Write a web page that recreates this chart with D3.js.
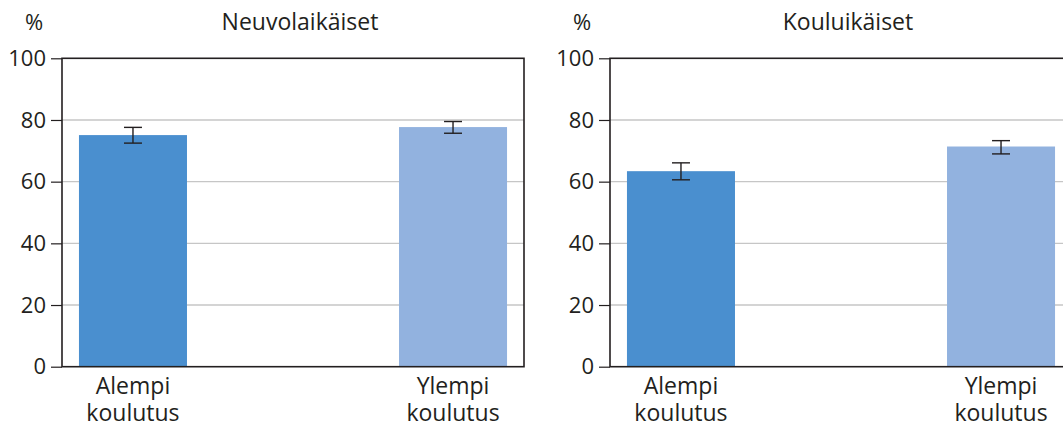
<!DOCTYPE html>
<html>
<head>
<meta charset="utf-8">
<script src="https://cdn.jsdelivr.net/npm/d3@7"></script>
<style>
  body { margin: 0; background: #fff; }
  text { font-family: "Open Sans", sans-serif; fill: #231f20; }
</style>
</head>
<body>
<div id="chart"></div>
<script>
// data
const panelTitles = ["Neuvolaikäiset", "Kouluikäiset"];
const groups = ["Alempi koulutus", "Ylempi koulutus"];
const neuvolaValues = [75.1, 77.7];
const neuvolaLow = [72.5, 75.7];
const neuvolaHigh = [77.6, 79.5];
const kouluValues = [63.4, 71.4];
const kouluLow = [60.6, 69.0];
const kouluHigh = [66.1, 73.3];
const yTicks = [0, 20, 40, 60, 80, 100];
const colors = ["#4a8fcf", "#92b2df"];

const width = 1063, height = 427;
const svg = d3.select("#chart").append("svg")
    .attr("width", width)
    .attr("height", height);

const panels = [
    {title: panelTitles[0], values: neuvolaValues, low: neuvolaLow, high: neuvolaHigh, left: 62},
    {title: panelTitles[1], values: kouluValues, low: kouluLow, high: kouluHigh, left: 610}
];
const plotW = 462;
const plotTop = 58.3, plotBottom = 366.7;

const y = d3.scaleLinear().domain([0, 100]).range([plotBottom, plotTop]);

panels.forEach(p => {
    const g = svg.append("g");
    const x = d3.scaleBand()
        .domain(groups)
        .range([p.left, p.left + plotW])
        .paddingInner(0.6625)
        .paddingOuter(0.053);

    // gridlines
    g.selectAll(".grid")
        .data(yTicks.filter(t => t > 0 && t < 100))
        .enter().append("line")
        .attr("x1", p.left).attr("x2", p.left + plotW)
        .attr("y1", d => y(d)).attr("y2", d => y(d))
        .attr("stroke", "#c6c6c6").attr("stroke-width", 1.3);

    // bars
    g.selectAll(".bar")
        .data(groups)
        .enter().append("rect")
        .attr("x", d => x(d))
        .attr("width", x.bandwidth())
        .attr("y", (d, i) => y(p.values[i]))
        .attr("height", (d, i) => y(0) - y(p.values[i]))
        .attr("fill", (d, i) => colors[i]);

    // error bars
    const cap = 9;
    groups.forEach((d, i) => {
        const cx = x(d) + x.bandwidth() / 2;
        g.append("line")
            .attr("x1", cx).attr("x2", cx)
            .attr("y1", y(p.low[i])).attr("y2", y(p.high[i]))
            .attr("stroke", "#231f20").attr("stroke-width", 1.4);
        [p.low[i], p.high[i]].forEach(v => {
            g.append("line")
                .attr("x1", cx - cap).attr("x2", cx + cap)
                .attr("y1", y(v)).attr("y2", y(v))
                .attr("stroke", "#231f20").attr("stroke-width", 1.4);
        });
    });

    // frame
    g.append("rect")
        .attr("x", p.left).attr("y", plotTop)
        .attr("width", plotW).attr("height", plotBottom - plotTop)
        .attr("fill", "none")
        .attr("stroke", "#231f20").attr("stroke-width", 1.6);

    // y axis
    const yAxis = g.append("g")
        .attr("transform", "translate(" + p.left + ",0)")
        .call(d3.axisLeft(y).tickValues(yTicks).tickSize(11).tickPadding(5));
    yAxis.select(".domain").remove();
    yAxis.selectAll(".tick line").attr("stroke", "#231f20").attr("stroke-width", 1.2);
    yAxis.selectAll(".tick text")
        .style("font-size", "22px")
        .style("font-family", "'Open Sans', sans-serif")
        .attr("fill", "#231f20");

    // x labels, two lines each
    groups.forEach(d => {
        const cx = x(d) + x.bandwidth() / 2;
        d.split(" ").forEach((w, k) => {
            g.append("text")
                .attr("x", cx).attr("y", 394 + k * 27)
                .attr("text-anchor", "middle")
                .style("font-size", "23px")
                .text(w);
        });
    });

    // title and unit
    g.append("text")
        .attr("x", p.left + plotW / 2 + 7).attr("y", 30)
        .attr("text-anchor", "middle")
        .style("font-size", "23px")
        .text(p.title);
    g.append("text")
        .attr("x", p.left - 28).attr("y", 30)
        .attr("text-anchor", "middle")
        .style("font-size", "22px")
        .text("%");
});
</script>
</body>
</html>
